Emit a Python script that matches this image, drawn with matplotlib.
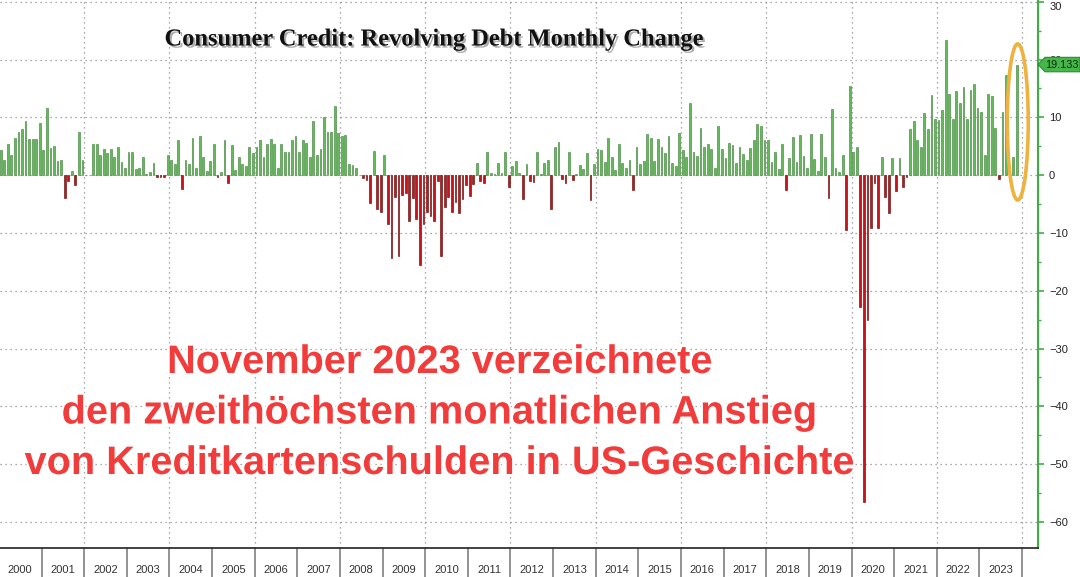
import numpy as np
import matplotlib
matplotlib.use("Agg")
import matplotlib.pyplot as plt
from matplotlib import patheffects
from matplotlib.patches import Ellipse, Polygon
from matplotlib.transforms import blended_transform_factory

# ---- data: revolving consumer credit, monthly change ($bn), Jan 2000 .. Nov 2023 ----
years = list(range(2000, 2024))
monthly_change = [
    4.3, 2.6, 5.4, 3.4, 6.4, 7.5, 7.9, 9.4, 6.2, 6.2, 6.2, 9.0,            # 2000
    4.3, 11.6, 4.7, 5.0, 2.4, 2.6, -4.0, -1.0, 0.7, -1.7, 7.5, 2.6,        # 2001
    0.1, 0.1, 5.4, 5.4, 3.4, 4.6, 3.8, 4.5, 3.1, 4.8, 2.2, 1.2,            # 2002
    4.0, 4.0, 1.0, 1.2, 3.1, 0.2, 0.6, 2.1, -0.3, -0.3, -0.4, 3.4,         # 2003
    2.6, 1.9, 6.0, -2.4, 2.6, 1.9, 6.5, 1.2, 6.8, 3.2, 0.7, 2.5,           # 2004
    5.4, -0.3, 0.5, 6.1, -1.3, 5.2, 0.9, 3.1, 2.0, 1.6, 4.9, 3.9,          # 2005
    4.9, 6.0, 3.1, 5.4, 6.2, 5.4, 1.2, 5.4, 4.0, 4.0, 6.0, 6.8,            # 2006
    4.0, 6.0, 5.5, 3.1, 9.4, 3.5, 4.6, 10.1, 7.5, 7.5, 12.0, 7.3,          # 2007
    6.7, 6.9, 2.0, 1.7, 1.3, 0.1, -0.5, -0.8, -4.8, 4.2, -5.8, -6.4,       # 2008
    3.4, -8.4, -14.3, -3.7, -13.9, -3.5, -3.1, -8.0, -4.0, -7.6, -15.6, -8.5,  # 2009
    -6.3, -7.1, -8.0, -1.0, -13.9, -5.5, -3.8, -6.3, -4.6, -6.5, -4.2, -1.7,   # 2010
    -3.6, -1.6, 2.1, -1.0, -1.4, 4.0, 0.3, 0.2, 2.1, 0.3, 4.0, -2.0,       # 2011
    1.5, 2.5, 0.3, -4.2, 1.9, -1.0, -1.2, 4.0, 0.2, 2.1, 2.6, -5.8,        # 2012
    4.9, 5.8, -0.6, -1.4, 4.0, -0.9, 0.2, 1.7, 1.0, 3.9, -4.3, 1.9,        # 2013
    4.6, 4.3, 2.3, 6.4, 3.2, 0.9, 5.4, 2.1, 1.2, 2.6, -2.5, 4.8,           # 2014
    1.9, 2.4, 7.2, 6.5, 2.4, 6.2, 4.8, 3.9, 6.8, 2.1, 1.6, 7.3,            # 2015
    4.3, 3.1, 12.5, 4.0, 3.3, 8.1, 4.9, 5.4, 4.5, 1.2, 8.5, 4.5,           # 2016
    3.0, 5.6, 5.2, 2.1, 4.8, 3.6, 2.6, 4.7, 6.0, 8.8, 8.5, 6.1,            # 2017
    6.0, 2.2, 4.0, 1.0, 5.4, -2.5, 2.9, 6.6, 2.3, 6.9, 3.3, 1.2,           # 2018
    7.1, 2.8, 0.8, 7.2, 3.2, -3.9, 11.4, 1.3, 0.6, 3.5, -9.5, 15.4,        # 2019
    4.0, 4.8, -22.8, -56.5, -25.0, -9.2, -1.4, -9.2, 3.1, -3.8, -6.5, 2.9, # 2020
    -2.8, 2.9, -2.0, -0.3, 7.9, 9.4, 6.1, 4.8, 10.8, 7.9, 13.9, 9.8,       # 2021
    9.5, 11.3, 23.3, 14.0, 9.8, 14.6, 12.5, 15.2, 9.7, 14.7, 15.8, 11.7,   # 2022
    10.9, 3.5, 14.0, 13.7, 8.1, -0.6, 11.0, 17.3, 0.1, 3.1, 19.133,        # 2023 (to Nov)
]
last_value = 19.133
y_ticks = list(range(-60, 31, 10))

title = "Consumer Credit: Revolving Debt Monthly Change"
callout = ["November 2023 verzeichnete",
           "den zweithöchsten monatlichen Anstieg",
           "von Kreditkartenschulden in US-Geschichte"]

GREEN, GREEN_EDGE = "#62bb58", "#468a40"
RED, RED_EDGE = "#c5141c", "#6a0d0d"
AXIS_GREEN = "#3fae45"
ORANGE = "#f0b23e"
W, H = 1080, 577


def main():
    fig = plt.figure(figsize=(W / 100, H / 100), dpi=100)
    fig.patch.set_facecolor("white")
    ax = fig.add_axes([0, 1 - 548 / H, 1038 / W, 548 / H])

    vals = np.array(monthly_change)
    x = np.arange(len(vals))
    pos = vals >= 0
    ax.bar(x, vals, width=0.5, color=np.where(pos, GREEN, RED),
           edgecolor=np.where(pos, GREEN_EDGE, RED_EDGE), linewidth=0.45, zorder=3)

    ax.set_xlim(-0.2, 292.0)
    ax.set_ylim(-64.5, 30.3)

    # dotted grid: every 10 horizontally, every 2 years vertically
    for yv in y_ticks:
        ax.axhline(yv, color="#8c8c8c", lw=0.9, ls=(0, (1, 3)), zorder=1)
    for yr in years[2::2] + [2024]:
        ax.axvline(12 * (yr - 2000) - 0.5, color="#8c8c8c", lw=0.9, ls=(0, (1, 3)), zorder=1)

    # right-hand value axis
    ax.yaxis.tick_right()
    ax.set_yticks(y_ticks)
    ax.set_yticks(np.arange(-60, 31, 5), minor=True)
    ax.tick_params(axis="y", which="major", direction="out", length=4, width=1.2,
                   color=AXIS_GREEN, labelsize=8, labelcolor="#222222", pad=4)
    ax.tick_params(axis="y", which="minor", direction="out", length=2.5, width=1,
                   color=AXIS_GREEN)
    ylabels = ax.get_yticklabels()
    for lbl in ylabels:
        lbl.set_family("Liberation Sans")
    ylabels[-1].set_verticalalignment("top")   # "30" sits right at the top edge
    for s in ("left", "top"):
        ax.spines[s].set_visible(False)
    ax.spines["right"].set_color(AXIS_GREEN)
    ax.spines["right"].set_linewidth(1.5)
    ax.spines["bottom"].set_color("#222222")
    ax.spines["bottom"].set_linewidth(1.2)

    # year band: separators as long ticks, labels centred in each year
    ax.set_xticks([12 * (y - 2000) - 0.5 for y in years[1:]] + [12 * 24 - 0.5])
    ax.set_xticklabels([])
    ax.set_xticks([12 * (y - 2000) + 5.5 for y in years], minor=True)
    ax.set_xticklabels([str(y) for y in years], minor=True, fontsize=8,
                       family="Liberation Sans", color="#333333")
    ax.tick_params(axis="x", which="major", direction="out", length=21, width=1.3,
                   color="#8a8a8a")
    ax.tick_params(axis="x", which="minor", length=0, pad=12)

    # last-value tag on the axis
    tr = blended_transform_factory(fig.transFigure, ax.transData)
    hh = 1.25
    tag = Polygon([(1038 / W, last_value), (1045 / W, last_value + hh), (1080 / W, last_value + hh),
                   (1080 / W, last_value - hh), (1045 / W, last_value - hh)],
                  closed=True, transform=tr, fc="#45b649", ec="#2f8a35", lw=0.8,
                  clip_on=False, zorder=6)
    fig.add_artist(tag)
    fig.text(1062 / W, last_value, f"{last_value:.3f}", transform=tr, ha="center", va="center",
             fontsize=7.8, family="Liberation Sans", color="#0d2a0d", zorder=7)

    # highlight ring round the latest bar
    ax.add_patch(Ellipse((x[-1] + 0.3, 9.2), 5.9, 27.0, fill=False, ec=ORANGE, lw=2.6,
                         zorder=5, clip_on=False))

    fig.text(434 / W, 1 - 40 / H, title, ha="center", va="center", fontsize=17.6,
             family="Liberation Serif", weight="bold", color="#111111",
             path_effects=[patheffects.SimplePatchShadow(offset=(1.5, -1.5), shadow_rgbFace="#777777",
                                                         alpha=0.6),
                           patheffects.Normal()])

    for i, line in enumerate(callout):
        fig.text(440 / W, 1 - (362 + 50.5 * i) / H, line, ha="center", va="center",
                 fontsize=28.6, family="Liberation Sans", weight="bold", color="#f23b3b",
                 path_effects=[patheffects.withStroke(linewidth=3, foreground="white")])

    fig.savefig("out.png", dpi=100)
    plt.close(fig)


if __name__ == "__main__":
    main()
